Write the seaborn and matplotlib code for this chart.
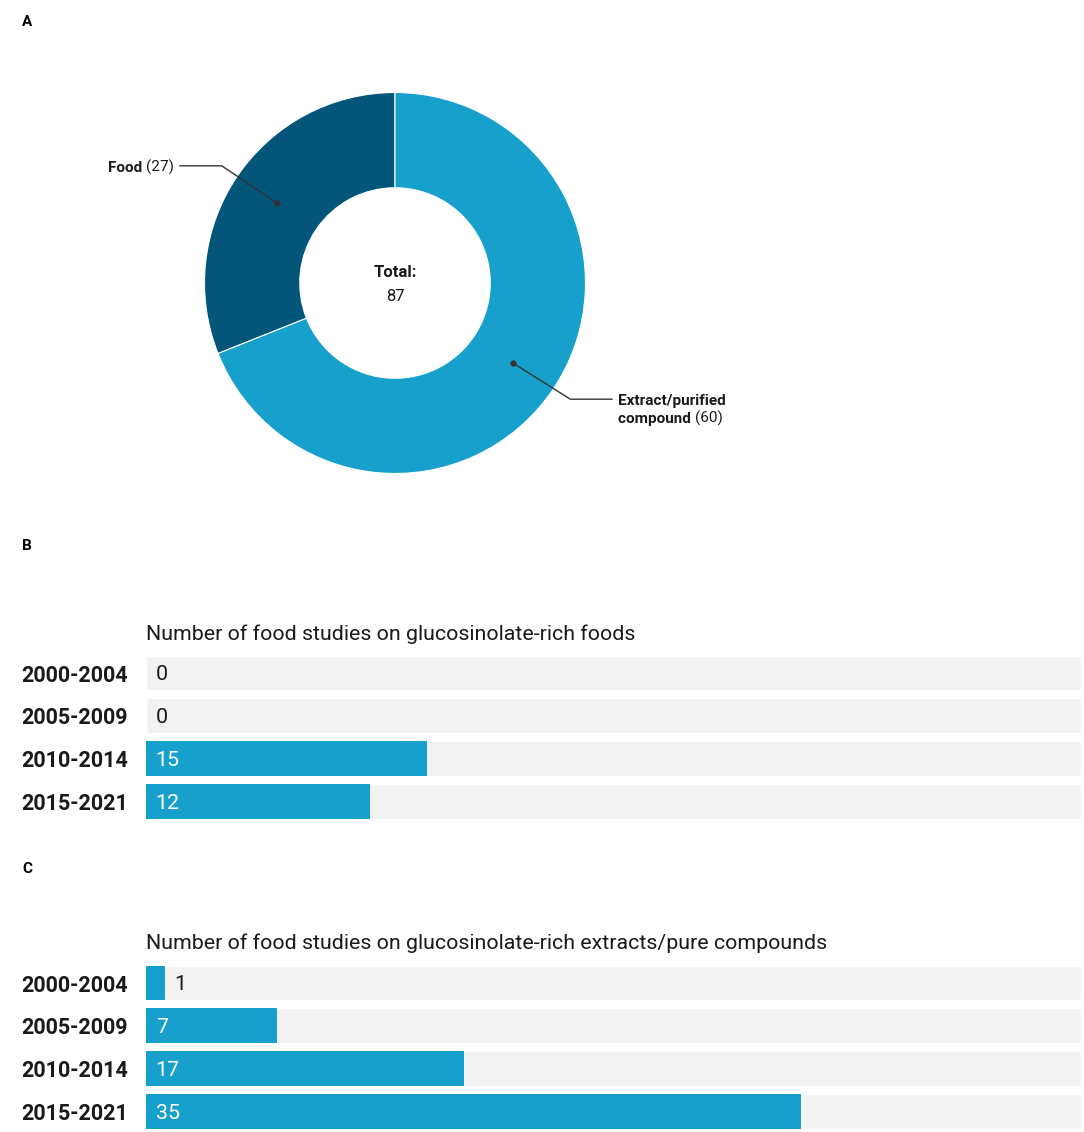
import numpy as np
import matplotlib
matplotlib.use("Agg")
import matplotlib.pyplot as plt
import seaborn as sns

# data
pie_labels = ["Food", "Extract/purified\ncompound"]
pie_values = [27, 60]
total = sum(pie_values)

periods = ["2000-2004", "2005-2009", "2010-2014", "2015-2021"]
food_studies = [0, 0, 15, 12]
extract_studies = [1, 7, 17, 35]
track_max = 50

title_b = "Number of food studies on glucosinolate-rich foods"
title_c = "Number of food studies on glucosinolate-rich extracts/pure compounds"

LIGHT = "#18a0cc"
DARK = "#03557a"
TRACK = "#f2f2f2"
INK = "#1a1a1a"

sns.set_style("white")
plt.rcParams['font.family'] = ['Roboto', 'DejaVu Sans']

W, H = 1084, 1132
fig = plt.figure(figsize=(W / 100, H / 100), dpi=100)


def box(left, top, right, bottom):
    return [left / W, 1 - bottom / H, (right - left) / W, (bottom - top) / H]


def fpos(x, y):
    return x / W, 1 - y / H


# panel letters
for letter, y in [("A", 22), ("B", 546), ("C", 869)]:
    fig.text(*fpos(27, y), letter, ha="center", va="center",
             fontsize=11, fontweight="bold", color="black")

# ---- A: donut ----
cx, cy, R = 395, 283, 190.5
half = 215
ax = fig.add_axes(box(cx - half, cy - half, cx + half, cy + half))
lim = half / R
wedges, _ = ax.pie(pie_values, colors=[DARK, LIGHT], startangle=90,
                   counterclock=True, radius=1,
                   wedgeprops=dict(width=0.5, edgecolor="white", linewidth=0.8))
ax.set_xlim(-lim, lim)
ax.set_ylim(-lim, lim)
ax.set_aspect("equal")
ax.axis("off")

ax.text(0, 12 / R, "Total:", ha="center", va="center_baseline", fontsize=12,
        fontweight="bold", color=INK)
ax.text(0, -12 / R, str(total), ha="center", va="center_baseline", fontsize=12,
        color=INK)

# leader lines: (elbow offset px, horizontal run px)
leaders = [((-55, 37), -42), ((57, -36), 42)]
for w, val, lab, (elb, run) in zip(wedges, pie_values, pie_labels, leaders):
    ang = np.deg2rad((w.theta1 + w.theta2) / 2)
    x0, y0 = 0.75 * np.cos(ang), 0.75 * np.sin(ang)
    x1, y1 = x0 + elb[0] / R, y0 + elb[1] / R
    x2 = x1 + run / R
    ax.plot([x0, x1, x2], [y0, y1, y1], color="#333333", lw=1, clip_on=False)
    ax.plot([x0], [y0], "o", color="#333333", ms=3.5, clip_on=False)
    xt = x2 + np.sign(run) * 6 / R
    lines = lab.split("\n")
    if run < 0:
        t = ax.text(xt, y1, f"({val})", ha="right", va="center_baseline",
                    fontsize=11, color=INK, clip_on=False)
        ax.annotate(lines[0] + " ", xy=(0, 0), xycoords=t, ha="right",
                    va="bottom", fontsize=11, fontweight="bold", color=INK)
    else:
        ax.text(xt, y1, lines[0], ha="left", va="center_baseline", fontsize=11,
                fontweight="bold", color=INK, clip_on=False)
        t = ax.text(xt, y1 - 18 / R, lines[1] + " ", ha="left",
                    va="center_baseline", fontsize=11, fontweight="bold",
                    color=INK, clip_on=False)
        ax.annotate(f"({val})", xy=(1, 0), xycoords=t, ha="left",
                    va="bottom", fontsize=11, color=INK)


# ---- B, C: bar panels ----
def bar_panel(values, title, first_center, title_y):
    pitch = 42.67
    top = first_center - pitch / 2
    bottom = first_center + 3 * pitch + pitch / 2
    bx = fig.add_axes(box(146, top, 1081, bottom))
    sns.barplot(x=[track_max] * len(periods), y=periods, orient="h",
                color=TRACK, saturation=1, width=0.82, ax=bx)
    sns.barplot(x=values, y=periods, orient="h", color=LIGHT, saturation=1,
                width=0.82, ax=bx, linewidth=0)
    bx.set_xlim(0, track_max)
    bx.set_ylim(3.5, -0.5)
    bx.set_xlabel("")
    bx.set_ylabel("")
    bx.set_xticks([])
    sns.despine(ax=bx, left=True, bottom=True)
    bx.tick_params(axis="y", length=0, pad=13)
    for tl in bx.get_yticklabels():
        tl.set_fontsize(15.5)
        tl.set_fontweight("bold")
        tl.set_color(INK)
    for i, v in enumerate(values):
        if v < 3:
            bx.annotate(str(v), xy=(v, i), xytext=(7, 0), textcoords="offset points",
                        ha="left", va="center_baseline", fontsize=15.4, color=INK)
        else:
            bx.annotate(str(v), xy=(0, i), xytext=(7, 0), textcoords="offset points",
                        ha="left", va="center_baseline", fontsize=15.4,
                        color="white")
    fig.text(*fpos(146, title_y), title, ha="left", va="center",
             fontsize=15.4, color=INK)


bar_panel(food_studies, title_b, 673, 634)
bar_panel(extract_studies, title_c, 983, 943)

fig.savefig("out.png", dpi=100)
